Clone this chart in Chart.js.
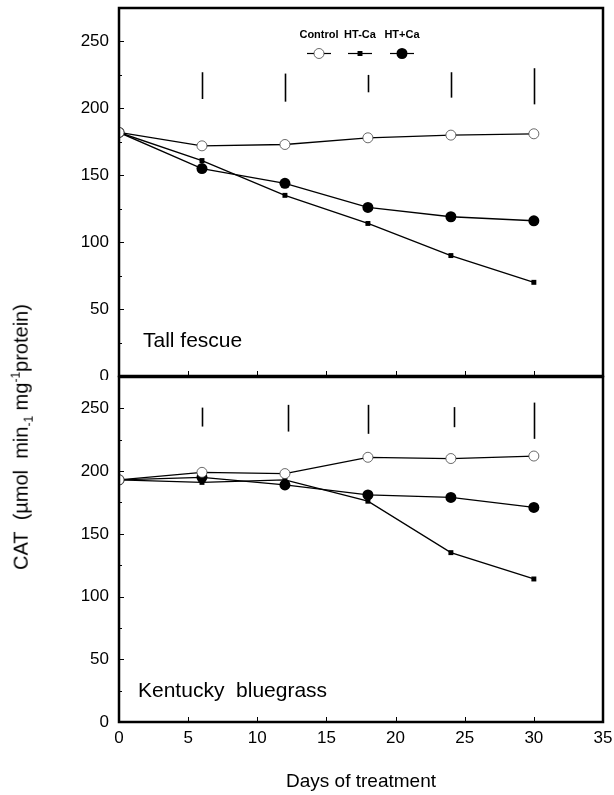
<!DOCTYPE html>
<html>
<head>
<meta charset="utf-8">
<script src="https://cdn.jsdelivr.net/npm/chart.js@4.4.1/dist/chart.umd.min.js"></script>
<style>
  body { margin: 0; background: #fff; }
  #wrap { position: relative; width: 614px; height: 795px; overflow: hidden; font-family: 'Liberation Sans', Arial, sans-serif; }
  canvas { position: absolute; left: 0; }
  #topChart { top: 0; }
  #bottomChart { top: 370px; }
  #ytitle {
    position: absolute; left: 22px; top: 437px; white-space: nowrap;
    transform: translate(-50%, -50%) rotate(-90deg);
    font-size: 20px; color: #000;
  }
  #ytitle sub, #ytitle sup { font-size: 12px; }
</style>
</head>
<body>
<div id="wrap">
  <canvas id="topChart" width="614" height="380"></canvas>
  <canvas id="bottomChart" width="614" height="425"></canvas>
  <div id="ytitle">CAT&nbsp; (µmol&nbsp; min<sub>-1</sub> mg<sup>-1</sup>protein)</div>
</div>
<script>
// data
const days = [0, 6, 12, 18, 24, 30];
const seriesNames = ['Control', 'HT-Ca', 'HT+Ca'];

const fescueControl = [182, 172, 173, 178, 180, 181];
const fescueHTminus = [182, 161, 135, 114, 90, 70];
const fescueHTplus = [182, 155, 144, 126, 119, 116];

const blueControl = [193, 199, 198, 211, 210, 212];
const blueHTminus = [193, 191, 193, 176, 135, 114];
const blueHTplus = [193, 195, 189, 181, 179, 171];

// LSD bars
const fescueLsdDays = [6, 12, 18, 24, 30];
const fescueLsdLow = [207, 205, 212, 208, 203];
const fescueLsdHigh = [227, 226, 225, 227, 230];

const blueLsdDays = [6, 12.2, 18, 24.2, 30];
const blueLsdLow = [235.5, 231.5, 229.7, 235, 225.7];
const blueLsdHigh = [250.6, 252.8, 252.8, 251, 254.6];

const yTicks = [0, 50, 100, 150, 200, 250];
const xTicks = [0, 5, 10, 15, 20, 25, 30, 35];

const FONT = "'Liberation Sans', Arial, sans-serif";

function pts(vals) {
  return days.map((d, i) => ({ x: d, y: vals[i] }));
}

function makeDatasets(ctrl, minus, plus) {
  return [
    {
      label: seriesNames[0], data: pts(ctrl),
      borderColor: '#000', borderWidth: 1.3,
      pointStyle: 'circle', pointRadius: 5, pointBackgroundColor: '#fff',
      pointBorderColor: '#444', pointBorderWidth: 0.8
    },
    {
      label: seriesNames[1], data: pts(minus),
      borderColor: '#000', borderWidth: 1.3,
      pointStyle: 'rect', pointRadius: 3.5, pointBackgroundColor: '#000',
      pointBorderColor: '#000', pointBorderWidth: 0
    },
    {
      label: seriesNames[2], data: pts(plus),
      borderColor: '#000', borderWidth: 1.3,
      pointStyle: 'circle', pointRadius: 5.5, pointBackgroundColor: '#000',
      pointBorderColor: '#000', pointBorderWidth: 0
    }
  ];
}

// frame, inward ticks, LSD bars, panel label, legend
const panelDecor = {
  id: 'panelDecor',
  afterDatasetsDraw(chart, args, opts) {
    const ctx = chart.ctx;
    const area = chart.chartArea;
    const xs = chart.scales.x, ys = chart.scales.y;
    ctx.save();
    ctx.strokeStyle = '#000';

    // LSD bars
    ctx.lineWidth = 1.6;
    opts.lsdDays.forEach((d, i) => {
      const px = Math.round(xs.getPixelForValue(d)) + 0.5;
      ctx.beginPath();
      ctx.moveTo(px, ys.getPixelForValue(opts.lsdLow[i]));
      ctx.lineTo(px, ys.getPixelForValue(opts.lsdHigh[i]));
      ctx.stroke();
    });

    // inward ticks
    ctx.lineWidth = 1;
    for (let v = 25; v < 275; v += 25) {
      const py = Math.round(ys.getPixelForValue(v)) + 0.5;
      const len = v % 50 === 0 ? 5 : 3;
      ctx.beginPath();
      ctx.moveTo(area.left, py);
      ctx.lineTo(area.left + len, py);
      ctx.stroke();
    }
    xTicks.slice(1, -1).forEach(v => {
      const px = Math.round(xs.getPixelForValue(v)) + 0.5;
      ctx.beginPath();
      ctx.moveTo(px, area.bottom);
      ctx.lineTo(px, area.bottom - 5);
      ctx.stroke();
    });

    // frame
    ctx.lineWidth = 2.5;
    ctx.strokeRect(area.left, area.top, area.right - area.left, area.bottom - area.top);

    // panel label
    ctx.fillStyle = '#000';
    ctx.font = '21px ' + FONT;
    ctx.textAlign = 'left';
    ctx.textBaseline = 'middle';
    ctx.fillText(opts.label, opts.lx, opts.ly);

    // legend
    if (opts.legend) {
      const lx = [319, 360, 402];
      ctx.font = 'bold 11px ' + FONT;
      ctx.textAlign = 'center';
      ctx.textBaseline = 'middle';
      chart.data.datasets.forEach((ds, i) => {
        ctx.fillStyle = '#000';
        ctx.strokeStyle = '#000';
        ctx.fillText(ds.label, lx[i], 35);
        ctx.lineWidth = 1.2;
        ctx.beginPath();
        ctx.moveTo(lx[i] - 12, 53.5);
        ctx.lineTo(lx[i] + 12, 53.5);
        ctx.stroke();
        ctx.fillStyle = ds.pointBackgroundColor;
        ctx.strokeStyle = ds.pointBorderColor;
        ctx.lineWidth = ds.pointBorderWidth;
        ctx.beginPath();
        if (ds.pointStyle === 'rect') {
          const s = ds.pointRadius * Math.SQRT1_2;
          ctx.rect(lx[i] - s, 53.5 - s, 2 * s, 2 * s);
          ctx.fill();
        } else {
          ctx.arc(lx[i], 53.5, ds.pointRadius, 0, Math.PI * 2);
          ctx.fill();
          if (ds.pointBorderWidth) ctx.stroke();
        }
      });
    }
    ctx.restore();
  }
};

function noPad(s) {
  s.paddingTop = 0; s.paddingBottom = 0; s.paddingLeft = 0; s.paddingRight = 0;
}

function yScale() {
  return {
    type: 'linear', min: 0, max: 275,
    afterBuildTicks: s => { s.ticks = yTicks.map(v => ({ value: v })); },
    afterFit: s => { s.width = 119; noPad(s); },
    grid: { display: false, drawTicks: false },
    border: { display: false },
    ticks: { color: '#000', font: { size: 17, family: FONT }, padding: 10 }
  };
}

function baseOptions() {
  return {
    responsive: false,
    animation: false,
    devicePixelRatio: 1,
    plugins: { legend: { display: false }, tooltip: { enabled: false } }
  };
}

// top panel: tall fescue
const topOpts = baseOptions();
topOpts.layout = { autoPadding: false, padding: { left: 0, right: 11, top: 8, bottom: 4 } };
topOpts.scales = {
  x: { type: 'linear', min: 0, max: 35, display: false, afterFit: noPad },
  y: yScale()
};
topOpts.plugins.panelDecor = {
  label: 'Tall fescue', lx: 143, ly: 341, legend: true,
  lsdDays: fescueLsdDays, lsdLow: fescueLsdLow, lsdHigh: fescueLsdHigh
};
new Chart(document.getElementById('topChart'), {
  type: 'line',
  data: { datasets: makeDatasets(fescueControl, fescueHTminus, fescueHTplus) },
  options: topOpts,
  plugins: [panelDecor]
});

// bottom panel: kentucky bluegrass
const botOpts = baseOptions();
botOpts.layout = { autoPadding: false, padding: { left: 0, right: 11, top: 7, bottom: 0 } };
botOpts.scales = {
  x: {
    type: 'linear', min: 0, max: 35,
    afterBuildTicks: s => { s.ticks = xTicks.map(v => ({ value: v })); },
    afterFit: s => { s.height = 73; noPad(s); },
    grid: { display: false, drawTicks: false },
    border: { display: false },
    ticks: { color: '#000', font: { size: 17, family: FONT }, padding: 6, maxRotation: 0 },
    title: { display: true, text: 'Days of treatment', color: '#000', font: { size: 19, family: FONT }, padding: { top: 18, bottom: 2 } }
  },
  y: yScale()
};
botOpts.plugins.panelDecor = {
  label: 'Kentucky  bluegrass', lx: 138, ly: 321, legend: false,
  lsdDays: blueLsdDays, lsdLow: blueLsdLow, lsdHigh: blueLsdHigh
};
new Chart(document.getElementById('bottomChart'), {
  type: 'line',
  data: { datasets: makeDatasets(blueControl, blueHTminus, blueHTplus) },
  options: botOpts,
  plugins: [panelDecor]
});
</script>
</body>
</html>
